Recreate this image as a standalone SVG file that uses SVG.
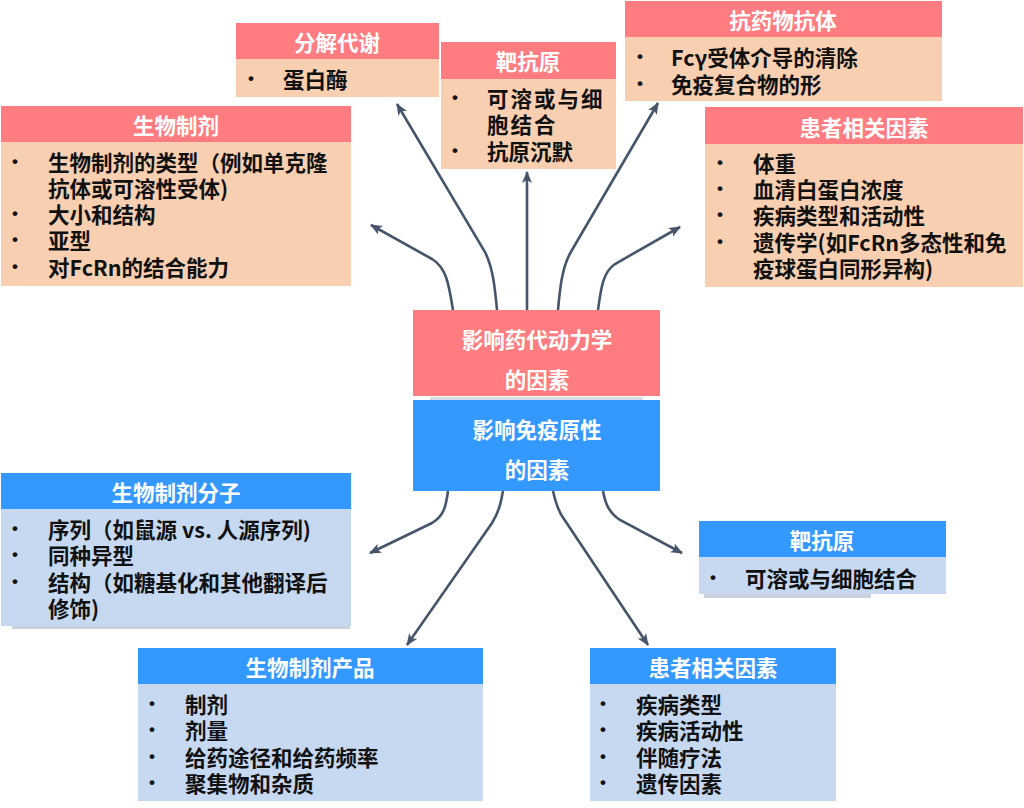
<svg xmlns="http://www.w3.org/2000/svg" width="1024" height="808" viewBox="0 0 1024 808">
<defs>
<marker id="ah" viewBox="0 0 12 10" refX="11" refY="5" markerWidth="12" markerHeight="10" markerUnits="userSpaceOnUse" orient="auto">
<path d="M0,0 L12,5 L0,10 L3,5 Z" fill="#46566a"/>
</marker>
<style>
.hp{fill:#ff7c80}
.bp{fill:#f8cfb0}
.hb{fill:#3399ff}
.bb{fill:#c6d9f1}
.sh{fill:#c9d3de}
.t{font-family:"Noto Sans CJK SC","Noto Sans",sans-serif;font-weight:700;font-size:21.5px;dominant-baseline:central}
.w{fill:#ffffff;text-anchor:middle}
.k{fill:#111111}
.bu{font-family:"Liberation Sans",sans-serif;font-weight:700;font-size:17px;fill:#111111;dominant-baseline:central}
.c{fill:none;stroke:#46566a;stroke-width:2.6;marker-end:url(#ah)}
</style>
</defs>
<rect width="1024" height="808" fill="#ffffff"/>

<g id="node-catabolism">
<rect class="hp" x="236" y="23" width="203" height="36"/>
<rect class="bp" x="236" y="59" width="203" height="38"/>
<text class="t w" x="337" y="41">分解代谢</text>
<text class="bu" x="248" y="78">•</text>
<text class="t k" x="283" y="78">蛋白酶</text>
</g>

<g id="node-biologic">
<rect class="hp" x="1" y="106" width="350" height="36"/>
<rect class="bp" x="1" y="142" width="350" height="144"/>
<text class="t w" x="176" y="124">生物制剂</text>
<text class="bu" x="12" y="161">•</text>
<text class="t k" x="48" y="161">生物制剂的类型（例如单克隆</text>
<text class="t k" x="48" y="187">抗体或可溶性受体)</text>
<text class="bu" x="12" y="213">•</text>
<text class="t k" x="48" y="213">大小和结构</text>
<text class="bu" x="12" y="239">•</text>
<text class="t k" x="48" y="239">亚型</text>
<text class="bu" x="12" y="266">•</text>
<text class="t k" x="48" y="266">对FcRn的结合能力</text>
</g>

<g id="node-target-pk">
<rect class="hp" x="441" y="42" width="175" height="37"/>
<rect class="bp" x="441" y="79" width="175" height="90"/>
<text class="t w" x="528" y="60">靶抗原</text>
<text class="bu" x="452" y="97">•</text>
<text class="t k" x="487" y="97" letter-spacing="2">可溶或与细</text>
<text class="t k" x="487" y="123" letter-spacing="2">胞结合</text>
<text class="bu" x="452" y="150">•</text>
<text class="t k" x="487" y="150">抗原沉默</text>
</g>

<g id="node-ada">
<rect class="hp" x="625" y="1" width="317" height="36"/>
<rect class="bp" x="625" y="37" width="317" height="64"/>
<text class="t w" x="783" y="19">抗药物抗体</text>
<text class="bu" x="637" y="56">•</text>
<text class="t k" x="671" y="56">Fcγ受体介导的清除</text>
<text class="bu" x="637" y="83">•</text>
<text class="t k" x="671" y="83">免疫复合物的形</text>
</g>

<g id="node-patient-pk">
<rect class="hp" x="705" y="107" width="318" height="37"/>
<rect class="bp" x="705" y="144" width="318" height="143"/>
<text class="t w" x="864" y="126">患者相关因素</text>
<text class="bu" x="717" y="162">•</text>
<text class="t k" x="753" y="162">体重</text>
<text class="bu" x="717" y="188">•</text>
<text class="t k" x="753" y="188">血清白蛋白浓度</text>
<text class="bu" x="717" y="214">•</text>
<text class="t k" x="753" y="214">疾病类型和活动性</text>
<text class="bu" x="717" y="241">•</text>
<text class="t k" x="753" y="241">遗传学(如FcRn多态性和免</text>
<text class="t k" x="753" y="267">疫球蛋白同形异构)</text>
</g>

<g id="node-pk-center">
<rect x="413" y="310" width="247" height="86" fill="#ff7c80"/>
<text class="t w" x="537" y="338">影响药代动力学</text>
<text class="t w" x="537" y="378">的因素</text>
</g>

<g id="node-immuno-center">
<rect x="430" y="397" width="213" height="4" fill="#d6dde6"/>
<rect x="413" y="400" width="247" height="91" fill="#3399ff"/>
<text class="t w" x="537" y="428">影响免疫原性</text>
<text class="t w" x="537" y="468">的因素</text>
</g>

<g id="node-molecule">
<rect class="sh" x="12" y="625" width="338" height="4"/>
<rect class="hb" x="1" y="473" width="350" height="36"/>
<rect class="bb" x="1" y="509" width="350" height="117"/>
<text class="t w" x="176" y="491">生物制剂分子</text>
<text class="bu" x="12" y="528">•</text>
<text class="t k" x="48" y="528">序列（如鼠源 vs. 人源序列)</text>
<text class="bu" x="12" y="554">•</text>
<text class="t k" x="48" y="554">同种异型</text>
<text class="bu" x="12" y="581">•</text>
<text class="t k" x="48" y="581">结构（如糖基化和其他翻译后</text>
<text class="t k" x="48" y="607">修饰)</text>
</g>

<g id="node-product">
<rect class="hb" x="138" y="648" width="345" height="36"/>
<rect class="bb" x="138" y="684" width="345" height="117"/>
<text class="t w" x="310" y="666">生物制剂产品</text>
<text class="bu" x="149" y="703">•</text>
<text class="t k" x="185" y="703">制剂</text>
<text class="bu" x="149" y="729">•</text>
<text class="t k" x="185" y="729">剂量</text>
<text class="bu" x="149" y="756">•</text>
<text class="t k" x="185" y="756">给药途径和给药频率</text>
<text class="bu" x="149" y="782">•</text>
<text class="t k" x="185" y="782">聚集物和杂质</text>
</g>

<g id="node-target-imm">
<rect class="sh" x="704" y="593" width="167" height="5"/>
<rect class="hb" x="699" y="521" width="247" height="36"/>
<rect class="bb" x="699" y="557" width="247" height="37"/>
<text class="t w" x="822" y="539">靶抗原</text>
<text class="bu" x="710" y="577">•</text>
<text class="t k" x="745" y="577">可溶或与细胞结合</text>
</g>

<g id="node-patient-imm">
<rect class="hb" x="590" y="648" width="246" height="36"/>
<rect class="bb" x="590" y="684" width="246" height="117"/>
<text class="t w" x="713" y="666">患者相关因素</text>
<text class="bu" x="600" y="703">•</text>
<text class="t k" x="636" y="703">疾病类型</text>
<text class="bu" x="600" y="729">•</text>
<text class="t k" x="636" y="729">疾病活动性</text>
<text class="bu" x="600" y="756">•</text>
<text class="t k" x="636" y="756">伴随疗法</text>
<text class="bu" x="600" y="782">•</text>
<text class="t k" x="636" y="782">遗传因素</text>
</g>

<g id="connectors">
<path class="c" d="M453,310 C449,286 447,268 432,259 L371,225"/>
<path class="c" d="M497,310 C495,288 493,268 485,252 L397,104"/>
<path class="c" d="M527,310 L527,172"/>
<path class="c" d="M558,310 C560,288 562,266 572,250 L658,103"/>
<path class="c" d="M598,310 C601,288 603,272 615,264 L680,227"/>
<path class="c" d="M448,491 C446,506 444,516 432,523 L370,553"/>
<path class="c" d="M503,491 C501,502 499,512 492,523 L407,645"/>
<path class="c" d="M553,491 C555,500 557,508 562,516 L648,645"/>
<path class="c" d="M603,491 C605,502 608,512 620,520 L682,553"/>
</g>
</svg>
